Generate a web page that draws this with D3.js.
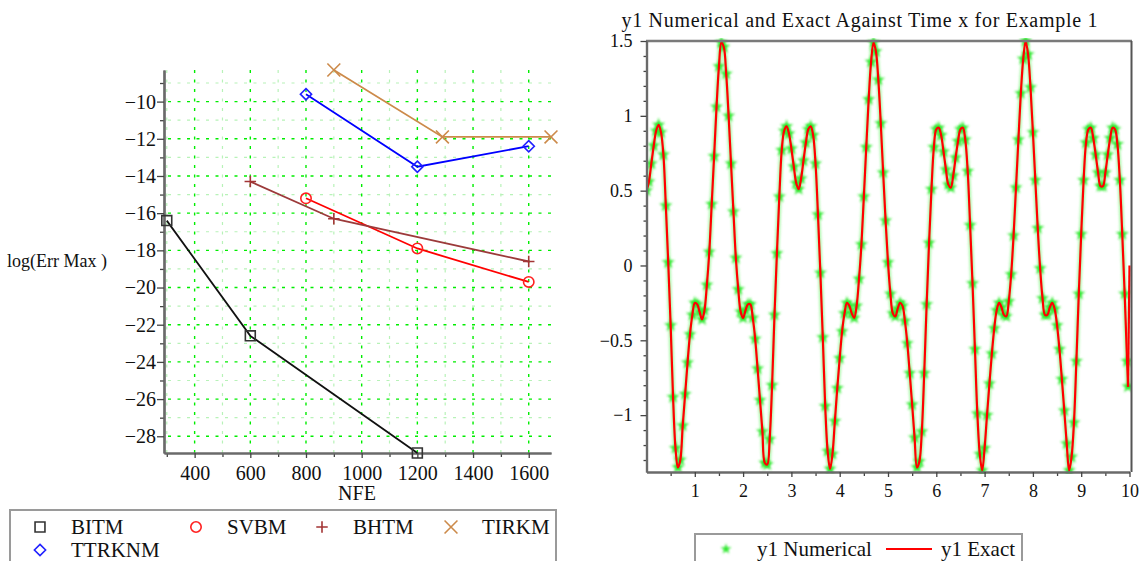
<!DOCTYPE html>
<html>
<head>
<meta charset="utf-8">
<script src="https://cdnjs.cloudflare.com/ajax/libs/d3/7.8.5/d3.min.js"></script>
<style>
body { margin: 0; background: #fff; }
svg text { font-family: "Liberation Serif", "Times New Roman", serif; }
.gmaj { stroke: #00ee00; stroke-width: 1.4; stroke-dasharray: 3,6.5; }
.gmin { stroke: #b8f2b8; stroke-width: 1.2; stroke-dasharray: 3,6.5; }
</style>
</head>
<body>
<script>
var width = 1140;
var height = 561;
var serif = "Liberation Serif, Times New Roman, serif";

// ---- left chart: log(Err Max) against NFE ----
var bitmNFE = [300, 600, 1200];
var bitmErr = [-16.4, -22.6, -28.9];
var svbmNFE = [800, 1200, 1600];
var svbmErr = [-15.2, -17.9, -19.7];
var bhtmNFE = [600, 900, 1600];
var bhtmErr = [-14.3, -16.3, -18.6];
var tirkmNFE = [900, 1290, 1680];
var tirkmErr = [-8.3, -11.9, -11.9];
var ttrknmNFE = [800, 1200, 1600];
var ttrknmErr = [-9.6, -13.5, -12.4];

var nfeTicks = [400, 600, 800, 1000, 1200, 1400, 1600];
var nfeMinor = [300, 500, 700, 900, 1100, 1300, 1500];
var errTicks = [-10, -12, -14, -16, -18, -20, -22, -24, -26, -28];
var errMinor = [-9, -11, -13, -15, -17, -19, -21, -23, -25, -27];

// ---- right chart: y1 numerical and exact, x = 0, 0.05, ... 9.95 ----
var xStep = 0.05;
var y1Values = [
  0.50, 0.56, 0.68, 0.80, 0.90, 0.94, 0.89, 0.74, 0.40, 0.02, -0.40, -0.88, -1.22, -1.35, -1.30, -1.07,
  -0.86, -0.65, -0.46, -0.33, -0.25, -0.26, -0.31, -0.36, -0.30, -0.13, 0.09, 0.41, 0.73, 1.06, 1.33, 1.49,
  1.46, 1.28, 1.00, 0.68, 0.36, 0.05, -0.16, -0.31, -0.35, -0.30, -0.26, -0.26, -0.35, -0.49, -0.69, -0.90,
  -1.11, -1.32, -1.33, -1.16, -0.80, -0.33, 0.08, 0.46, 0.77, 0.90, 0.93, 0.88, 0.78, 0.66, 0.55, 0.51,
  0.58, 0.70, 0.82, 0.91, 0.93, 0.87, 0.68, 0.34, -0.05, -0.48, -0.94, -1.24, -1.36, -1.26, -1.04, -0.82,
  -0.62, -0.44, -0.32, -0.25, -0.27, -0.32, -0.35, -0.27, -0.09, 0.14, 0.46, 0.79, 1.11, 1.36, 1.49,
  1.43, 1.24, 0.95, 0.62, 0.30, 0.02, -0.19, -0.32, -0.34, -0.29, -0.25, -0.27, -0.37, -0.52, -0.72, -0.93,
  -1.15, -1.35, -1.31, -1.11, -0.72, -0.26, 0.15, 0.51, 0.79, 0.91, 0.92, 0.87, 0.76, 0.64, 0.54,
  0.52, 0.60, 0.72, 0.83, 0.91, 0.92, 0.84, 0.63, 0.27, -0.12, -0.56, -0.99, -1.26, -1.37, -1.22, -1.00,
  -0.79, -0.59, -0.42, -0.30, -0.25, -0.28, -0.33, -0.34, -0.24, -0.06, 0.20, 0.52, 0.84, 1.15, 1.38, 1.50,
  1.41, 1.19, 0.89, 0.57, 0.25, -0.02, -0.22, -0.33, -0.33, -0.28, -0.25, -0.29, -0.40, -0.56, -0.76, -0.97,
  -1.19, -1.37, -1.28, -1.05, -0.64, -0.19, 0.21, 0.57, 0.82, 0.91, 0.92, 0.85, 0.74, 0.62, 0.53,
  0.53, 0.62, 0.74, 0.85, 0.92, 0.91, 0.81, 0.57, 0.21, -0.19, -0.64
];
// last numerical point, and the closing point of the exact curve
var numTailX = [9.97];
var numTailY = [-0.81];
var exactTailX = [9.97, 10];
var exactTailY = [-0.81, 0];

var y1Ticks = [-1, -0.5, 0, 0.5, 1, 1.5];
var y1Minor = [-1.3, -1.2, -1.1, -0.9, -0.8, -0.7, -0.6, -0.4, -0.3, -0.2, -0.1,
               0.1, 0.2, 0.3, 0.4, 0.6, 0.7, 0.8, 0.9, 1.1, 1.2, 1.3, 1.4];
var timeTicks = [1, 2, 3, 4, 5, 6, 7, 8, 9, 10];
var timeMinor = [0.5, 1.5, 2.5, 3.5, 4.5, 5.5, 6.5, 7.5, 8.5, 9.5];

var svg = d3.select("body").append("svg")
    .attr("width", width)
    .attr("height", height)
    .attr("font-family", serif);

function styleAxis(g, size) {
    g.attr("font-family", serif).attr("font-size", size);
    g.select(".domain").attr("stroke", "#6a6a6a").attr("stroke-width", 2.2);
    g.selectAll(".tick line").attr("stroke", "#444").attr("stroke-width", 1.3);
    g.selectAll(".tick text").attr("fill", "#111").attr("font-family", serif);
}

/* ================= left chart ================= */
var xL = d3.scaleLinear().domain([290, 1680]).range([164, 551]);
var yL = d3.scaleLinear().domain([-28.9, -8.3]).range([453, 70]);

var left = svg.append("g");

left.selectAll(".vmin").data(nfeMinor).enter().append("line")
    .attr("class", "gmin")
    .attr("x1", function(d) { return xL(d); }).attr("x2", function(d) { return xL(d); })
    .attr("y1", 70).attr("y2", 453);
left.selectAll(".hmin").data(errMinor).enter().append("line")
    .attr("class", "gmin")
    .attr("x1", 168).attr("x2", 551)
    .attr("y1", function(d) { return yL(d); }).attr("y2", function(d) { return yL(d); });
left.selectAll(".vmaj").data(nfeTicks).enter().append("line")
    .attr("class", "gmaj")
    .attr("x1", function(d) { return xL(d); }).attr("x2", function(d) { return xL(d); })
    .attr("y1", 70).attr("y2", 453);
left.selectAll(".hmaj").data(errTicks).enter().append("line")
    .attr("class", "gmaj")
    .attr("x1", 168).attr("x2", 551)
    .attr("y1", function(d) { return yL(d); }).attr("y2", function(d) { return yL(d); });

left.append("g").attr("transform", "translate(164,0)")
    .call(d3.axisLeft(yL).tickValues(errMinor).tickSize(4).tickSizeOuter(0).tickFormat(""))
    .call(function(g) { styleAxis(g, 20); });
left.append("g").attr("transform", "translate(164,0)")
    .call(d3.axisLeft(yL).tickValues(errTicks).tickSize(7).tickSizeOuter(0).tickPadding(1).tickFormat(d3.format("d")))
    .call(function(g) { styleAxis(g, 20); });
left.append("g").attr("transform", "translate(0,453)")
    .call(d3.axisBottom(xL).tickValues(nfeMinor).tickSize(4).tickSizeOuter(0).tickFormat(""))
    .call(function(g) { styleAxis(g, 20); });
left.append("g").attr("transform", "translate(0,453)")
    .call(d3.axisBottom(xL).tickValues(nfeTicks).tickSize(5).tickSizeOuter(0).tickPadding(8).tickFormat(d3.format("d")))
    .call(function(g) { styleAxis(g, 20); });

left.append("text").attr("x", 357).attr("y", 500).attr("text-anchor", "middle")
    .attr("font-size", 20).attr("fill", "#111").text("NFE");
left.append("text").attr("x", 7).attr("y", 267)
    .attr("font-size", 18).attr("fill", "#111").text("log(Err Max )");

var series = [
    { name: "BITM", nfe: bitmNFE, err: bitmErr, color: "#111111", mark: "#333333", sym: d3.symbolSquare2, size: 125 },
    { name: "SVBM", nfe: svbmNFE, err: svbmErr, color: "#ff0000", mark: "#ff2020", sym: d3.symbolCircle, size: 85 },
    { name: "BHTM", nfe: bhtmNFE, err: bhtmErr, color: "#9c3a3a", mark: "#a33535", sym: d3.symbolPlus, size: 45 },
    { name: "TIRKM", nfe: tirkmNFE, err: tirkmErr, color: "#cc8a4a", mark: "#cc8a4a", sym: d3.symbolTimes, size: 110 },
    { name: "TTRKNM", nfe: ttrknmNFE, err: ttrknmErr, color: "#0000ff", mark: "#2020ff", sym: d3.symbolDiamond2, size: 80 }
];

var lineL = d3.line()
    .x(function(d) { return xL(d[0]); })
    .y(function(d) { return yL(d[1]); });

series.forEach(function(s) {
    var pts = s.nfe.map(function(v, i) { return [v, s.err[i]]; });
    left.append("path")
        .attr("d", lineL(pts))
        .attr("fill", "none")
        .attr("stroke", s.color)
        .attr("stroke-width", 1.8);
    left.selectAll(null).data(pts).enter().append("path")
        .attr("transform", function(d) { return "translate(" + xL(d[0]) + "," + yL(d[1]) + ")"; })
        .attr("d", d3.symbol().type(s.sym).size(s.size))
        .attr("fill", "none")
        .attr("stroke", s.mark)
        .attr("stroke-width", 1.6);
});

// legend
left.append("rect").attr("x", 10).attr("y", 510).attr("width", 546).attr("height", 70)
    .attr("fill", "none").attr("stroke", "#9a9a9a").attr("stroke-width", 2);
var legPos = [[40, 527], [196, 527], [322, 527], [451, 527], [40, 550]];
series.forEach(function(s, i) {
    left.append("path")
        .attr("transform", "translate(" + legPos[i][0] + "," + legPos[i][1] + ")")
        .attr("d", d3.symbol().type(s.sym).size(s.size))
        .attr("fill", "none")
        .attr("stroke", s.mark)
        .attr("stroke-width", 1.6);
    left.append("text")
        .attr("x", legPos[i][0] + 31)
        .attr("y", legPos[i][1] + 7)
        .attr("font-size", 21)
        .attr("fill", "#111")
        .text(s.name);
});

/* ================= right chart ================= */
var xR = d3.scaleLinear().domain([0, 10]).range([646.5, 1129.5]);
var yR = d3.scaleLinear().domain([-1.38, 1.5]).range([472, 41]);

var right = svg.append("g");

right.append("text")
    .attr("x", 859.5).attr("y", 27)
    .attr("text-anchor", "middle")
    .attr("font-size", 20)
    .attr("textLength", 476)
    .attr("lengthAdjust", "spacing")
    .attr("fill", "#111")
    .text("y1 Numerical and Exact Against Time x for Example 1");

var defs = svg.append("defs");
defs.append("clipPath").attr("id", "clipR")
    .append("rect").attr("x", 646).attr("y", 38).attr("width", 486).attr("height", 436);
defs.append("filter").attr("id", "soft")
    .attr("x", "-50%").attr("y", "-50%").attr("width", "200%").attr("height", "200%")
    .append("feGaussianBlur").attr("stdDeviation", 0.8);
defs.append("filter").attr("id", "glow")
    .attr("x", "-10%").attr("y", "-10%").attr("width", "120%").attr("height", "120%")
    .append("feGaussianBlur").attr("stdDeviation", 1.2);

var numX = y1Values.map(function(v, i) { return i * xStep; }).concat(numTailX);
var numY = y1Values.concat(numTailY);
var numPts = numX.map(function(x, i) { return [x, numY[i]]; });
var exactX = y1Values.map(function(v, i) { return i * xStep; }).concat(exactTailX);
var exactY = y1Values.concat(exactTailY);
var exactPts = exactX.map(function(x, i) { return [x, exactY[i]]; });

var plot = right.append("g").attr("clip-path", "url(#clipR)");

var curveR = d3.line()
    .x(function(d) { return xR(d[0]); })
    .y(function(d) { return yR(d[1]); })
    .curve(d3.curveCatmullRom.alpha(0.5));
var exactMain = exactPts.slice(0, exactPts.length - 1);

// faint green halo left by the dense numerical markers
plot.append("path")
    .attr("d", curveR(exactMain))
    .attr("fill", "none")
    .attr("stroke", "#55f055")
    .attr("stroke-opacity", 0.45)
    .attr("stroke-width", 5)
    .attr("filter", "url(#glow)");

plot.selectAll(".star").data(numPts).enter().append("path")
    .attr("class", "star")
    .attr("transform", function(d) { return "translate(" + xR(d[0]) + "," + yR(d[1]) + ")"; })
    .attr("d", d3.symbol().type(d3.symbolStar).size(55))
    .attr("fill", "#2ee82e")
    .attr("filter", "url(#soft)");

plot.append("path")
    .attr("d", curveR(exactMain))
    .attr("fill", "none")
    .attr("stroke", "#ff0000")
    .attr("stroke-width", 2.2);
plot.append("path")
    .attr("d", d3.line()
        .x(function(d) { return xR(d[0]); })
        .y(function(d) { return yR(d[1]); })(exactPts.slice(exactPts.length - 2)))
    .attr("fill", "none")
    .attr("stroke", "#ff0000")
    .attr("stroke-width", 2.2);

// frame
right.append("line").attr("x1", 646).attr("x2", 1132).attr("y1", 41).attr("y2", 41)
    .attr("stroke", "#7a7a7a").attr("stroke-width", 2.6);
right.append("line").attr("x1", 1131.5).attr("x2", 1131.5).attr("y1", 41).attr("y2", 472)
    .attr("stroke", "#555").attr("stroke-width", 2);

right.append("g").attr("transform", "translate(646.5,0)")
    .call(d3.axisLeft(yR).tickValues(y1Minor).tickSize(3).tickSizeOuter(0).tickFormat(""))
    .call(function(g) { styleAxis(g, 18); });
right.append("g").attr("transform", "translate(646.5,0)")
    .call(d3.axisLeft(yR).tickValues(y1Ticks).tickSize(6).tickSizeOuter(0).tickPadding(8).tickFormat(d3.format("")))
    .call(function(g) { styleAxis(g, 18); });
right.append("g").attr("transform", "translate(0,472)")
    .call(d3.axisBottom(xR).tickValues(timeMinor).tickSize(4).tickSizeOuter(0).tickFormat(""))
    .call(function(g) { styleAxis(g, 18); });
right.append("g").attr("transform", "translate(0,472)")
    .call(d3.axisBottom(xR).tickValues(timeTicks).tickSize(5).tickSizeOuter(0).tickPadding(7).tickFormat(d3.format("d")))
    .call(function(g) { styleAxis(g, 18); });

// legend
right.append("rect").attr("x", 695).attr("y", 534).attr("width", 327).attr("height", 50)
    .attr("fill", "none").attr("stroke", "#9a9a9a").attr("stroke-width", 2);
right.append("path")
    .attr("transform", "translate(726,549)")
    .attr("d", d3.symbol().type(d3.symbolStar).size(36))
    .attr("fill", "#2ee82e")
    .attr("filter", "url(#soft)");
right.append("text").attr("x", 757).attr("y", 556).attr("font-size", 21).attr("fill", "#111")
    .text("y1 Numerical");
right.append("line").attr("x1", 886).attr("x2", 932).attr("y1", 549).attr("y2", 549)
    .attr("stroke", "#ff0000").attr("stroke-width", 2.2);
right.append("text").attr("x", 941).attr("y", 556).attr("font-size", 21).attr("fill", "#111")
    .text("y1 Exact");
</script>
</body>
</html>
